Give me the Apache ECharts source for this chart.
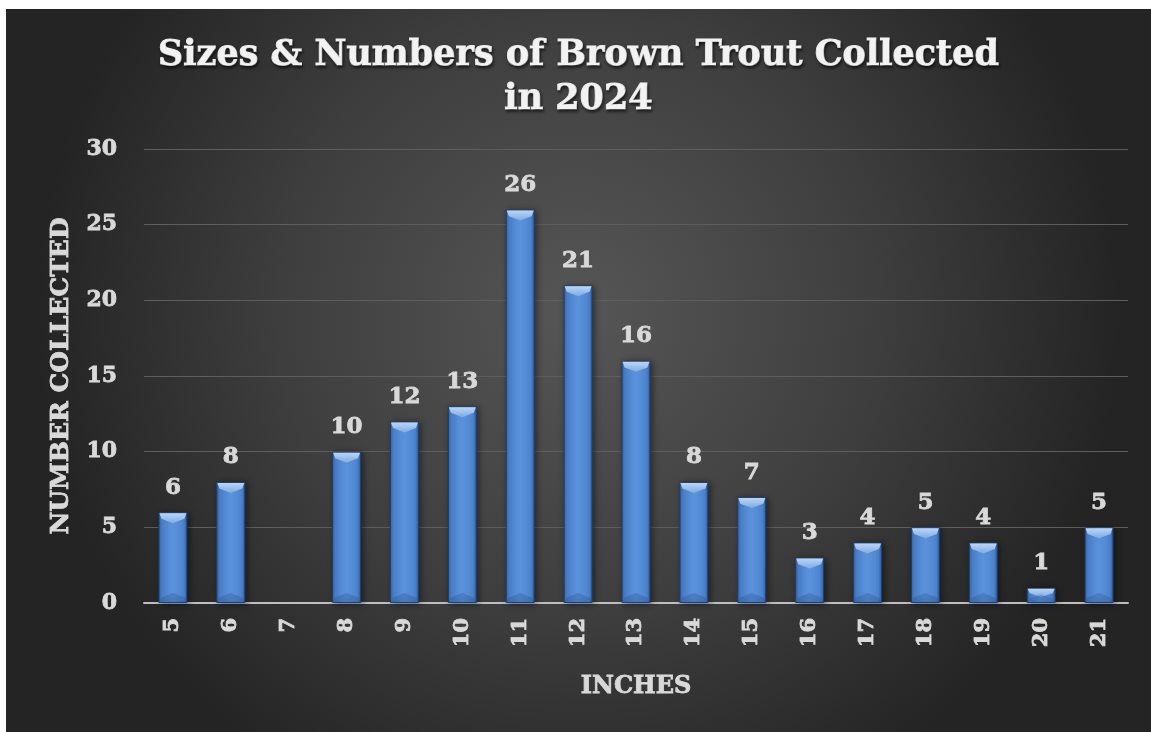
<!DOCTYPE html>
<html>
<head>
<meta charset="utf-8">
<script src="https://cdn.jsdelivr.net/npm/echarts@6/dist/echarts.min.js"></script>
<style>
html,body{margin:0;padding:0;background:#ffffff;}
#chart{position:absolute;left:6px;top:9px;width:1145px;height:723px;}
</style>
</head>
<body>
<div id="chart"></div>
<script>
const categories = ['5','6','7','8','9','10','11','12','13','14','15','16','17','18','19','20','21'];
const counts = [6, 8, null, 10, 12, 13, 26, 21, 16, 8, 7, 3, 4, 5, 4, 1, 5];
const yTicks = [0, 5, 10, 15, 20, 25, 30];
const titleText = 'Sizes & Numbers of Brown Trout Collected\nin 2024';
const yAxisTitle = 'NUMBER COLLECTED';
const xAxisTitle = 'INCHES';

const FONT = '"DejaVu Serif", serif';
const TXT = '#d9d9d9';
const chart = echarts.init(document.getElementById('chart'));

const barFill = new echarts.graphic.LinearGradient(0, 0, 1, 0, [
  {offset: 0, color: '#3566ab'},
  {offset: 0.12, color: '#4d84cf'},
  {offset: 0.5, color: '#5a93dc'},
  {offset: 0.88, color: '#4d84cf'},
  {offset: 1, color: '#2f5b9a'}
]);

function heavy(size) {
  return {fontFamily: FONT, fontWeight: 'bold', fontSize: size, color: TXT,
          textBorderColor: TXT, textBorderWidth: 0.8};
}

chart.setOption({
  backgroundColor: {
    type: 'radial', x: 0.5, y: 0.42, r: 0.75,
    colorStops: [
      {offset: 0, color: '#565656'},
      {offset: 0.55, color: '#3e3e3e'},
      {offset: 1, color: '#242424'}
    ]
  },
  title: {
    text: titleText,
    left: 'center',
    top: 20,
    textStyle: {
      fontFamily: FONT, fontWeight: 'bold', fontSize: 35, lineHeight: 44,
      color: '#f2f2f2', textBorderColor: '#f2f2f2', textBorderWidth: 1,
      textShadowColor: 'rgba(0,0,0,0.6)', textShadowBlur: 3,
      textShadowOffsetX: 1, textShadowOffsetY: 2
    }
  },
  grid: {left: 138, right: 23, top: 140, bottom: 129},
  xAxis: {
    type: 'category',
    data: categories,
    name: xAxisTitle,
    nameLocation: 'middle',
    nameGap: 72,
    nameTextStyle: heavy(24),
    axisLine: {lineStyle: {color: '#bfbfbf', width: 2}},
    axisTick: {show: false},
    axisLabel: Object.assign({rotate: 90, margin: 15, interval: 0}, heavy(21))
  },
  yAxis: {
    type: 'value',
    min: 0, max: 30, interval: 5,
    name: yAxisTitle,
    nameLocation: 'middle',
    nameGap: 70,
    nameRotate: 90,
    nameTextStyle: heavy(25),
    axisLine: {show: false},
    axisTick: {show: false},
    splitLine: {lineStyle: {color: '#5e5e5e', width: 1}},
    axisLabel: Object.assign({
      margin: 27,
      formatter: function (v) { return yTicks.indexOf(v) >= 0 ? String(v) : ''; }
    }, heavy(22))
  },
  series: [
    {
      type: 'bar',
      data: counts,
      barWidth: '50%',
      itemStyle: {
        color: barFill,
        borderColor: '#1f3f6e', borderWidth: 1,
        shadowColor: 'rgba(0,0,0,0.45)', shadowBlur: 6, shadowOffsetX: 2, shadowOffsetY: 1
      },
      label: Object.assign({show: true, position: 'top', distance: 13}, heavy(23)),
      z: 2
    },
    {
      type: 'custom',
      data: counts.map(function (v, i) { return [i, v]; }),
      silent: true,
      z: 3,
      renderItem: function (params, api) {
        const v = api.value(1);
        if (v == null || isNaN(v)) return null;
        const top = api.coord([api.value(0), v]);
        const base = api.coord([api.value(0), 0]);
        const w = api.size([1, 0])[0] * 0.5;
        const h = Math.min(11, (base[1] - top[1]) * 0.6);
        const x0 = top[0] - w / 2, x1 = top[0] + w / 2, y0 = top[1];
        const cx = top[0];
        return {
          type: 'group',
          children: [
            {
              type: 'polygon',
              shape: {points: [[x0 + 1, y0 + 1], [x1 - 1, y0 + 1], [x1 - 3, y0 + h * 0.6], [cx, y0 + h], [x0 + 3, y0 + h * 0.6]]},
              style: {fill: new echarts.graphic.LinearGradient(0, 0, 0, 1, [
                {offset: 0, color: '#b9d6f8'},
                {offset: 1, color: '#7eaae5'}
              ])}
            },
            {
              type: 'polygon',
              shape: {points: [[x0 + 1, base[1] - 1], [x1 - 1, base[1] - 1], [x1 - 3, base[1] - h * 0.5], [cx, base[1] - h * 0.9], [x0 + 3, base[1] - h * 0.5]]},
              style: {fill: 'rgba(40,80,140,0.3)'}
            }
          ]
        };
      }
    }
  ]
});
</script>
</body>
</html>
